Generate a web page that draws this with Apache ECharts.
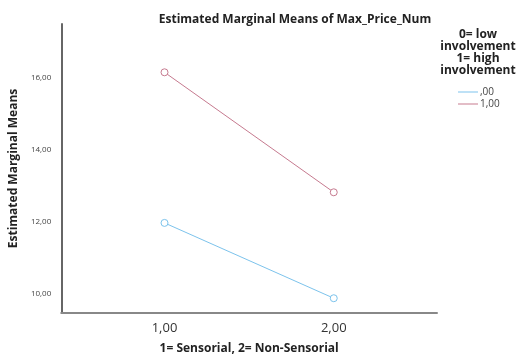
<!DOCTYPE html>
<html>
<head>
<meta charset="utf-8">
<script src="https://cdn.jsdelivr.net/npm/echarts@6/dist/echarts.min.js"></script>
<style>html,body{margin:0;padding:0;background:#fff}#c{width:518px;height:360px}</style>
</head>
<body>
<div id="c"></div>
<script>
const xCategories = [1, 2];
const lowInvolvement = [11.97, 9.88];
const highInvolvement = [16.15, 12.82];
const seriesNames = [',00', '1,00'];
const yTicks = [10, 12, 14, 16];
const xTicks = [1, 2];
const fmt = v => v.toFixed(2).replace('.', ',').replace(/^0,/, ',');

const chart = echarts.init(document.getElementById('c'), null, {renderer: 'canvas'});
const font = '"Open Sans", "DejaVu Sans", sans-serif';
const colors = ['#7cc3ec', '#c67a8f'];
chart.setOption({
  animation: false,
  backgroundColor: '#fff',
  title: {
    text: 'Estimated Marginal Means of Max_Price_Num',
    left: 290, top: 9, textAlign: 'center',
    textStyle: {fontFamily: font, fontSize: 12, fontWeight: 'bold', color: '#222'}
  },
  graphic: [{
    type: 'text', x: 478, y: 29,
    style: {
      text: '0= low\ninvolvement\n1= high\ninvolvement',
      align: 'center', verticalAlign: 'top',
      font: 'bold 12px "Open Sans", "DejaVu Sans", sans-serif',
      lineHeight: 12, fill: '#222'
    }
  }],
  legend: {
    orient: 'vertical', left: 453, top: 82, itemGap: 2,
    itemWidth: 20, itemHeight: 1, icon: 'rect',
    textStyle: {fontFamily: font, fontSize: 10, color: '#444', padding: [0, 0, 0, -3], lineHeight: 10, height: 10},
    data: seriesNames.map((n, i) => ({name: n, itemStyle: {color: colors[i], borderWidth: 0}}))
  },
  grid: {left: 59, right: 81, top: 24, bottom: 43, containLabel: false},
  xAxis: {
    type: 'value', min: 0.39, max: 2.61,
    name: '1= Sensorial, 2= Non-Sensorial', nameLocation: 'middle', nameGap: 30,
    nameTextStyle: {fontFamily: font, fontSize: 12, fontWeight: 'bold', color: '#222'},
    axisLine: {show: true, lineStyle: {color: '#888', width: 2}},
    axisTick: {show: false, customValues: xTicks},
    splitLine: {show: false},
    axisLabel: {customValues: xTicks, formatter: fmt, fontFamily: font, fontSize: 13, color: '#333', margin: 9}
  },
  yAxis: {
    type: 'value', min: 9.47, max: 17.49,
    name: 'Estimated Marginal Means', nameLocation: 'middle', nameGap: 41,
    nameTextStyle: {fontFamily: font, fontSize: 12, fontWeight: 'bold', color: '#222'},
    axisLine: {show: true, lineStyle: {color: '#666', width: 2}},
    axisTick: {show: false, customValues: yTicks},
    splitLine: {show: false},
    axisLabel: {customValues: yTicks, formatter: fmt, fontFamily: font, fontSize: 8, color: '#444', margin: 10}
  },
  series: [
    {
      name: seriesNames[0], type: 'line',
      data: xCategories.map((x, i) => [x, lowInvolvement[i]]),
      symbol: 'circle', symbolSize: 7,
      lineStyle: {color: colors[0], width: 1},
      itemStyle: {color: '#fff', borderColor: colors[0], borderWidth: 1},
      color: colors[0]
    },
    {
      name: seriesNames[1], type: 'line',
      data: xCategories.map((x, i) => [x, highInvolvement[i]]),
      symbol: 'circle', symbolSize: 7,
      lineStyle: {color: colors[1], width: 1},
      itemStyle: {color: '#fff', borderColor: colors[1], borderWidth: 1},
      color: colors[1]
    }
  ]
});
</script>
</body>
</html>
